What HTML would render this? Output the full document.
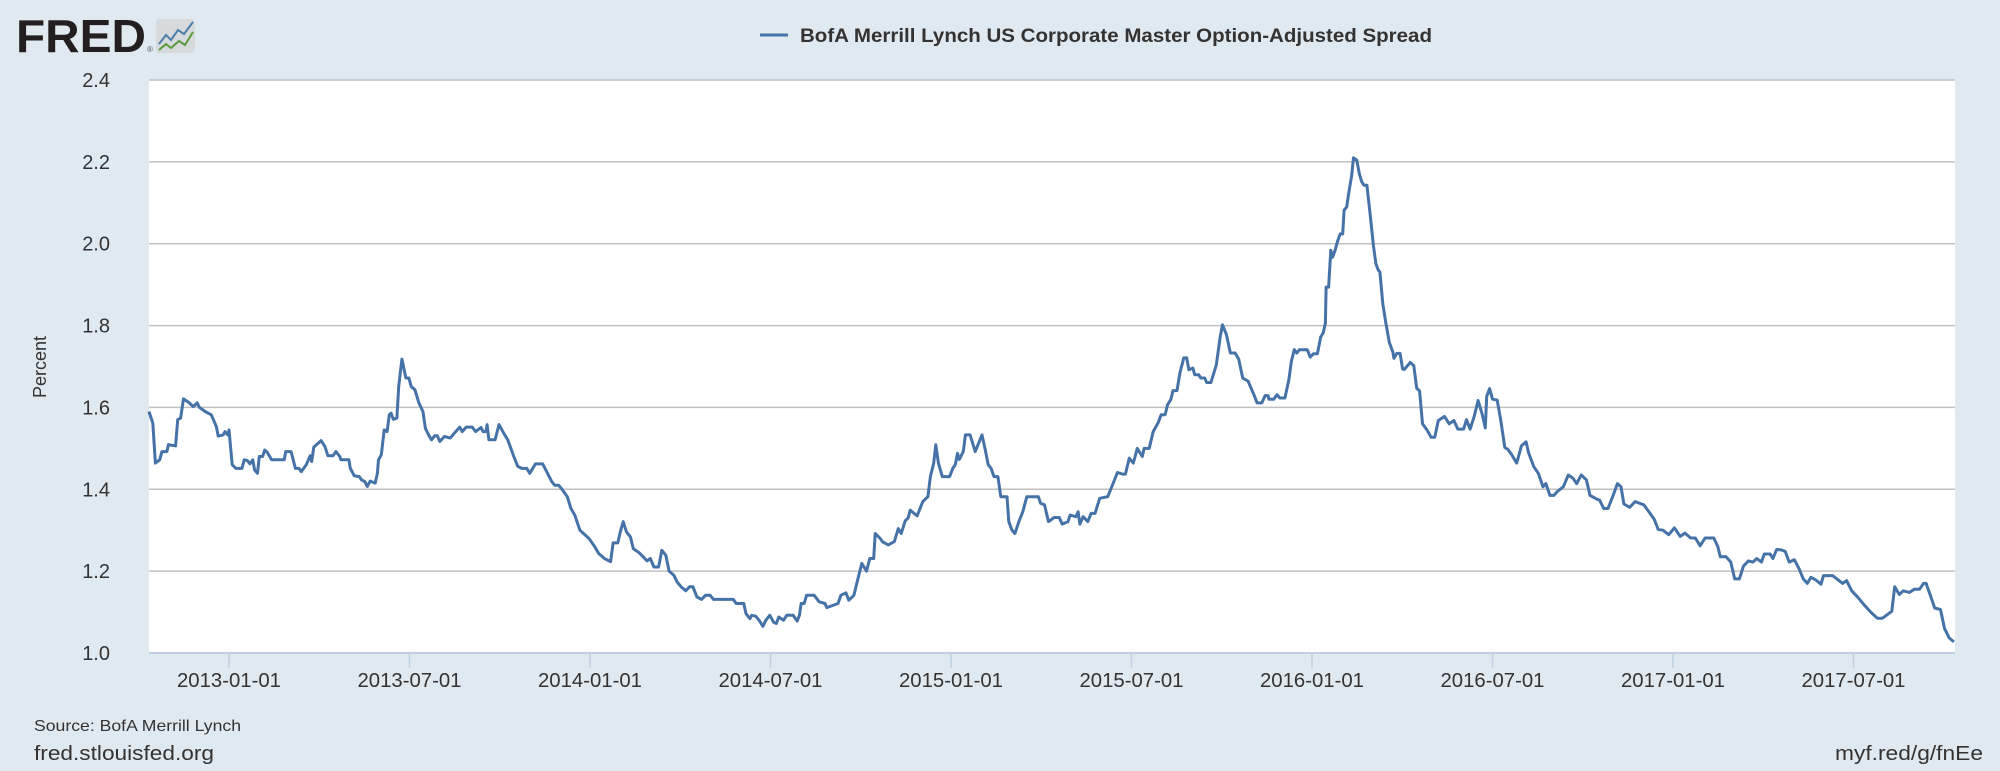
<!DOCTYPE html>
<html>
<head>
<meta charset="utf-8">
<style>
  html,body{margin:0;padding:0;background:#e1e9f0;}
  svg{display:block;font-family:"Liberation Sans",sans-serif;}
</style>
</head>
<body>
<svg id="chart" width="2000" height="771" viewBox="0 0 2000 771" xmlns="http://www.w3.org/2000/svg">
  <rect x="0" y="0" width="2000" height="771" fill="#e1e9f0"/>
  <g>
    <text x="16" y="52" font-size="46" font-weight="bold" fill="#231f20" textLength="130" lengthAdjust="spacingAndGlyphs">FRED</text>
    <text x="147" y="52" font-size="8" fill="#555">®</text>
    <rect x="156" y="19" width="39" height="34" rx="3" fill="#d6dadd"/>
    <polyline points="159,44 166,35 171,40 178,30 184,34 193,22" fill="none" stroke="#4a7ea8" stroke-width="2"/>
    <polyline points="159,50 166,44 171,48 179,41 185,45 193,32" fill="none" stroke="#5a9a3a" stroke-width="2"/>
  </g>
  <g>
    <line x1="760" y1="35" x2="788" y2="35" stroke="#4572a7" stroke-width="3"/>
    <text x="800" y="42" font-size="19" font-weight="bold" fill="#333" textLength="632" lengthAdjust="spacingAndGlyphs">BofA Merrill Lynch US Corporate Master Option-Adjusted Spread</text>
  </g>
  <rect x="149" y="80" width="1806" height="573" fill="#ffffff"/>
  <g id="grid"></g>
  <g id="yticks"></g>
  <g id="xticks"></g>
  <g id="series"></g>
  <text x="0" y="0" transform="translate(46,367) rotate(-90)" font-size="18" fill="#333" text-anchor="middle">Percent</text>
  <text x="34" y="731" font-size="16" fill="#333" textLength="207" lengthAdjust="spacingAndGlyphs">Source: BofA Merrill Lynch</text>
  <text x="34" y="760" font-size="20" fill="#333" textLength="180" lengthAdjust="spacingAndGlyphs">fred.stlouisfed.org</text>
  <text x="1983" y="760" font-size="20" fill="#333" text-anchor="end" textLength="148" lengthAdjust="spacingAndGlyphs">myf.red/g/fnEe</text>
</svg>
<script>
const yTickValues = [1.0, 1.2, 1.4, 1.6, 1.8, 2.0, 2.2, 2.4];
const yTickLabels = ["1.0", "1.2", "1.4", "1.6", "1.8", "2.0", "2.2", "2.4"];
const xTickYears = [2013.0, 2013.5, 2014.0, 2014.5, 2015.0, 2015.5, 2016.0, 2016.5, 2017.0, 2017.5];
const xTickLabels = ["2013-01-01","2013-07-01","2014-01-01","2014-07-01","2015-01-01","2015-07-01","2016-01-01","2016-07-01","2017-01-01","2017-07-01"];
const dates = [
2012.778,2012.789,2012.796,2012.808,2012.814,2012.828,2012.832,2012.852,2012.858,2012.866,2012.874,2012.890,2012.901,2012.912,2012.918,2012.934,2012.951,2012.965,2012.970,2012.984,2012.989,2012.997,2013.000,2013.009,2013.019,2013.036,2013.042,2013.051,2013.058,2013.066,2013.071,2013.079,2013.084,2013.093,2013.099,2013.106,2013.118,2013.153,2013.157,2013.172,2013.184,2013.194,2013.200,2013.214,2013.225,2013.229,2013.235,2013.249,2013.255,2013.266,2013.274,2013.288,2013.296,2013.307,2013.310,2013.332,2013.336,2013.347,2013.361,2013.367,2013.376,2013.383,2013.391,2013.405,2013.411,2013.414,2013.422,2013.430,2013.438,2013.444,2013.449,2013.455,2013.465,2013.470,2013.479,2013.490,2013.498,2013.505,2013.515,2013.526,2013.537,2013.544,2013.553,2013.561,2013.570,2013.577,2013.584,2013.597,2013.613,2013.624,2013.639,2013.646,2013.657,2013.674,2013.683,2013.698,2013.704,2013.712,2013.715,2013.720,2013.737,2013.748,2013.761,2013.772,2013.781,2013.789,2013.800,2013.811,2013.825,2013.833,2013.849,2013.869,2013.880,2013.894,2013.902,2013.913,2013.924,2013.937,2013.947,2013.958,2013.972,2013.982,2013.997,2014.013,2014.024,2014.040,2014.057,2014.064,2014.077,2014.084,2014.092,2014.101,2014.112,2014.120,2014.136,2014.147,2014.158,2014.167,2014.177,2014.190,2014.199,2014.210,2014.219,2014.232,2014.241,2014.252,2014.265,2014.276,2014.285,2014.296,2014.309,2014.320,2014.333,2014.342,2014.397,2014.405,
2014.416,2014.426,2014.432,2014.443,2014.448,2014.459,2014.470,2014.479,2014.487,2014.498,2014.509,2014.516,2014.523,2014.536,2014.545,2014.563,2014.574,2014.580,2014.585,2014.593,2014.600,2014.621,2014.635,2014.651,2014.656,2014.687,2014.695,2014.709,2014.717,2014.731,2014.739,2014.753,2014.766,2014.775,2014.786,2014.790,2014.804,2014.810,2014.826,2014.843,2014.854,2014.862,2014.873,2014.881,2014.887,2014.906,2014.922,2014.936,2014.943,2014.952,2014.958,2014.965,2014.976,2014.996,2015.005,2015.012,2015.018,2015.023,2015.034,2015.040,2015.053,2015.067,2015.086,2015.095,2015.103,2015.111,2015.119,2015.130,2015.138,2015.155,2015.160,2015.169,2015.177,2015.188,2015.199,2015.210,2015.242,2015.248,2015.259,2015.270,2015.286,2015.300,2015.308,2015.324,2015.330,2015.346,2015.352,2015.357,2015.366,2015.379,2015.388,2015.399,2015.412,2015.434,2015.445,2015.461,2015.475,2015.483,2015.494,2015.505,2015.516,2015.530,2015.535,2015.549,2015.560,2015.574,2015.582,2015.593,2015.600,2015.609,2015.615,2015.626,2015.634,2015.645,2015.653,2015.659,2015.670,2015.675,2015.686,2015.692,2015.703,2015.708,2015.720,2015.735,2015.746,2015.752,2015.763,2015.774,2015.787,2015.797,2015.808,2015.823,2015.830,2015.839,2015.848,2015.861,2015.870,2015.878,2015.881,2015.894,2015.903,2015.911,2015.925,2015.936,2015.943,2015.951,2015.958,2015.965,2015.976,2015.987,2015.995,2016.004,2016.015,2016.024,2016.031,2016.037,
2016.039,2016.046,2016.052,2016.057,2016.064,2016.070,2016.078,2016.085,2016.089,2016.096,2016.103,2016.110,2016.115,2016.124,2016.131,2016.138,2016.144,2016.152,2016.161,2016.170,2016.177,2016.184,2016.188,2016.196,2016.205,2016.214,2016.224,2016.227,2016.235,2016.244,2016.251,
2016.256,2016.272,2016.282,2016.290,2016.298,2016.306,2016.320,2016.330,2016.340,2016.350,2016.367,2016.380,2016.393,2016.404,2016.420,2016.428,2016.438,2016.449,2016.460,2016.471,2016.480,2016.484,2016.492,2016.500,2016.513,2016.523,2016.534,2016.542,2016.553,2016.567,2016.580,2016.593,2016.600,2016.614,2016.627,2016.640,2016.648,2016.659,2016.670,2016.680,2016.696,2016.710,2016.723,2016.733,2016.746,2016.760,2016.770,2016.787,2016.797,2016.808,2016.820,2016.834,2016.846,2016.856,2016.864,2016.880,2016.895,2016.919,2016.935,2016.948,2016.959,2016.972,2016.988,2017.004,2017.020,2017.033,2017.049,2017.062,2017.075,2017.089,2017.102,2017.113,2017.124,2017.131,2017.147,2017.160,2017.171,2017.184,2017.195,2017.209,2017.221,2017.232,2017.245,2017.253,2017.269,2017.277,2017.287,2017.300,2017.311,2017.322,2017.336,2017.349,2017.361,2017.372,2017.382,2017.396,2017.410,2017.417,2017.442,2017.454,2017.470,2017.481,2017.495,2017.513,2017.529,2017.550,2017.566,2017.580,2017.591,2017.606,2017.614,2017.627,2017.638,2017.655,2017.669,2017.683,2017.694,2017.701,2017.710,2017.725,2017.741,2017.752,2017.765,2017.778
];
const spreads = [
1.59,1.562,1.464,1.472,1.492,1.492,1.509,1.506,1.57,1.574,1.621,1.611,1.602,1.611,1.600,1.590,1.582,1.553,1.530,1.533,1.541,1.533,1.545,1.46,1.451,1.451,1.472,1.47,1.462,1.472,1.447,1.439,1.48,1.48,1.496,1.49,1.472,1.472,1.492,1.492,1.451,1.451,1.443,1.46,1.482,1.468,1.503,1.514,1.519,1.504,1.482,1.482,1.492,1.48,1.472,1.472,1.451,1.433,1.431,1.423,1.419,1.407,1.42,1.415,1.439,1.472,1.484,1.545,1.541,1.582,1.586,1.571,1.574,1.651,1.718,1.672,1.672,1.651,1.643,1.611,1.59,1.549,1.533,1.521,1.531,1.531,1.517,1.529,1.525,1.537,1.552,1.541,1.552,1.552,1.541,1.551,1.541,1.541,1.558,1.521,1.521,1.558,1.537,1.521,1.5,1.48,1.456,1.451,1.451,1.439,1.462,1.462,1.443,1.419,1.41,1.41,1.398,1.382,1.353,1.337,1.30,1.292,1.28,1.26,1.243,1.231,1.223,1.269,1.269,1.296,1.321,1.296,1.284,1.255,1.245,1.235,1.225,1.231,1.21,1.21,1.251,1.239,1.2,1.19,1.174,1.162,1.152,1.162,1.162,1.137,1.131,1.141,1.141,1.131,1.131,1.121,
1.121,1.121,1.096,1.084,1.092,1.09,1.078,1.065,1.08,1.092,1.075,1.072,1.088,1.08,1.092,1.092,1.078,1.092,1.121,1.121,1.141,1.141,1.125,1.121,1.111,1.121,1.141,1.147,1.129,1.141,1.17,1.219,1.2,1.231,1.231,1.292,1.28,1.272,1.264,1.272,1.304,1.292,1.323,1.329,1.349,1.335,1.37,1.382,1.431,1.464,1.509,1.464,1.431,1.431,1.451,1.46,1.488,1.473,1.492,1.533,1.533,1.492,1.533,1.496,1.46,1.451,1.431,1.431,1.382,1.382,1.321,1.30,1.292,1.321,1.345,1.382,1.382,1.366,1.362,1.321,1.331,1.331,1.315,1.321,1.337,1.333,1.345,1.315,1.333,1.321,1.341,1.341,1.378,1.382,1.405,1.441,1.437,1.437,1.476,1.464,1.5,1.48,1.5,1.5,1.541,1.563,1.582,1.582,1.607,1.619,1.641,1.641,1.684,1.721,1.721,1.692,1.696,1.68,1.68,1.672,1.672,1.661,1.661,1.704,1.774,1.802,1.778,1.733,1.733,1.718,1.672,1.664,1.65,1.631,1.611,1.611,1.629,1.629,1.62,1.62,1.631,1.623,1.623,1.668,1.713,1.741,1.733,1.741,1.741,1.741,1.723,1.731,1.731,1.772,1.782,1.806,
1.894,1.894,1.984,1.967,1.984,2.004,2.024,2.024,2.082,2.09,2.131,2.167,2.21,2.204,2.171,2.151,2.143,2.143,2.073,1.996,1.951,1.935,1.931,1.853,1.804,1.759,1.735,1.72,1.732,1.732,1.694,
1.693,1.71,1.702,1.647,1.64,1.56,1.543,1.527,1.527,1.568,1.578,1.56,1.568,1.547,1.547,1.57,1.547,1.577,1.617,1.585,1.55,1.627,1.646,1.62,1.618,1.568,1.502,1.498,1.485,1.464,1.506,1.516,1.489,1.456,1.439,1.406,1.414,1.385,1.385,1.395,1.406,1.435,1.427,1.414,1.435,1.423,1.385,1.377,1.373,1.353,1.353,1.385,1.414,1.406,1.364,1.356,1.37,1.362,1.343,1.327,1.302,1.30,1.289,1.306,1.285,1.293,1.281,1.281,1.262,1.281,1.281,1.281,1.26,1.235,1.235,1.222,1.181,1.181,1.212,1.225,1.222,1.231,1.222,1.242,1.242,1.231,1.253,1.252,1.248,1.222,1.228,1.206,1.181,1.17,1.185,1.178,1.168,1.189,1.189,1.181,1.17,1.177,1.152,1.135,1.118,1.098,1.085,1.085,1.092,1.102,1.162,1.143,1.152,1.148,1.156,1.156,1.17,1.17,1.148,1.11,1.106,1.06,1.037,1.027
];

const NS = "http://www.w3.org/2000/svg";
const PLOT = {left:149, right:1955, top:80, bottom:653};
function xScale(yr){ return 229 + (yr - 2013) * 361; }
function yScale(v){ return PLOT.bottom - (v - 1.0) / 1.4 * (PLOT.bottom - PLOT.top); }

const grid = document.getElementById('grid');
const yt = document.getElementById('yticks');
yTickValues.forEach(function(v, i){
  const y = yScale(v);
  if (i > 0) {
    const gl = document.createElementNS(NS, 'line');
    gl.setAttribute('x1', PLOT.left); gl.setAttribute('x2', PLOT.right);
    gl.setAttribute('y1', y); gl.setAttribute('y2', y);
    gl.setAttribute('stroke', '#c0c0c0'); gl.setAttribute('stroke-width', '1.5');
    
    
    grid.appendChild(gl);
  }
  const t = document.createElementNS(NS, 'text');
  t.setAttribute('x', 110); t.setAttribute('y', y + 7);
  t.setAttribute('text-anchor', 'end'); t.setAttribute('font-size', '20');
  t.setAttribute('fill', '#333');
  t.textContent = yTickLabels[i];
  
  
  yt.appendChild(t);
});

const xt = document.getElementById('xticks');
const axis = document.createElementNS(NS, 'line');
axis.setAttribute('x1', PLOT.left); axis.setAttribute('x2', PLOT.right);
axis.setAttribute('y1', PLOT.bottom); axis.setAttribute('y2', PLOT.bottom);
axis.setAttribute('stroke', '#c0d0e0'); axis.setAttribute('stroke-width', '2');


xt.appendChild(axis);
xTickYears.forEach(function(yr, i){
  const x = xScale(yr);
  const tk = document.createElementNS(NS, 'line');
  tk.setAttribute('x1', x); tk.setAttribute('x2', x);
  tk.setAttribute('y1', PLOT.bottom); tk.setAttribute('y2', PLOT.bottom + 15);
  tk.setAttribute('stroke', '#c0d0e0'); tk.setAttribute('stroke-width', '1.5');
  
  
  xt.appendChild(tk);
  const t = document.createElementNS(NS, 'text');
  t.setAttribute('x', x); t.setAttribute('y', 687);
  t.setAttribute('text-anchor', 'middle'); t.setAttribute('font-size', '20');
  t.setAttribute('fill', '#333');
  t.setAttribute('textLength', '104'); t.setAttribute('lengthAdjust', 'spacingAndGlyphs');
  t.textContent = xTickLabels[i];
  
  
  xt.appendChild(t);
});

const pts = dates.map(function(d, i){ return xScale(d).toFixed(1) + ',' + yScale(spreads[i]).toFixed(1); });
const line = document.createElementNS(NS, 'polyline');
line.setAttribute('points', pts.join(' '));
line.setAttribute('fill', 'none');
line.setAttribute('stroke', '#4572a7');
line.setAttribute('stroke-width', '3');
line.setAttribute('stroke-linejoin', 'round');


document.getElementById('series').appendChild(line);
</script>
</body>
</html>
